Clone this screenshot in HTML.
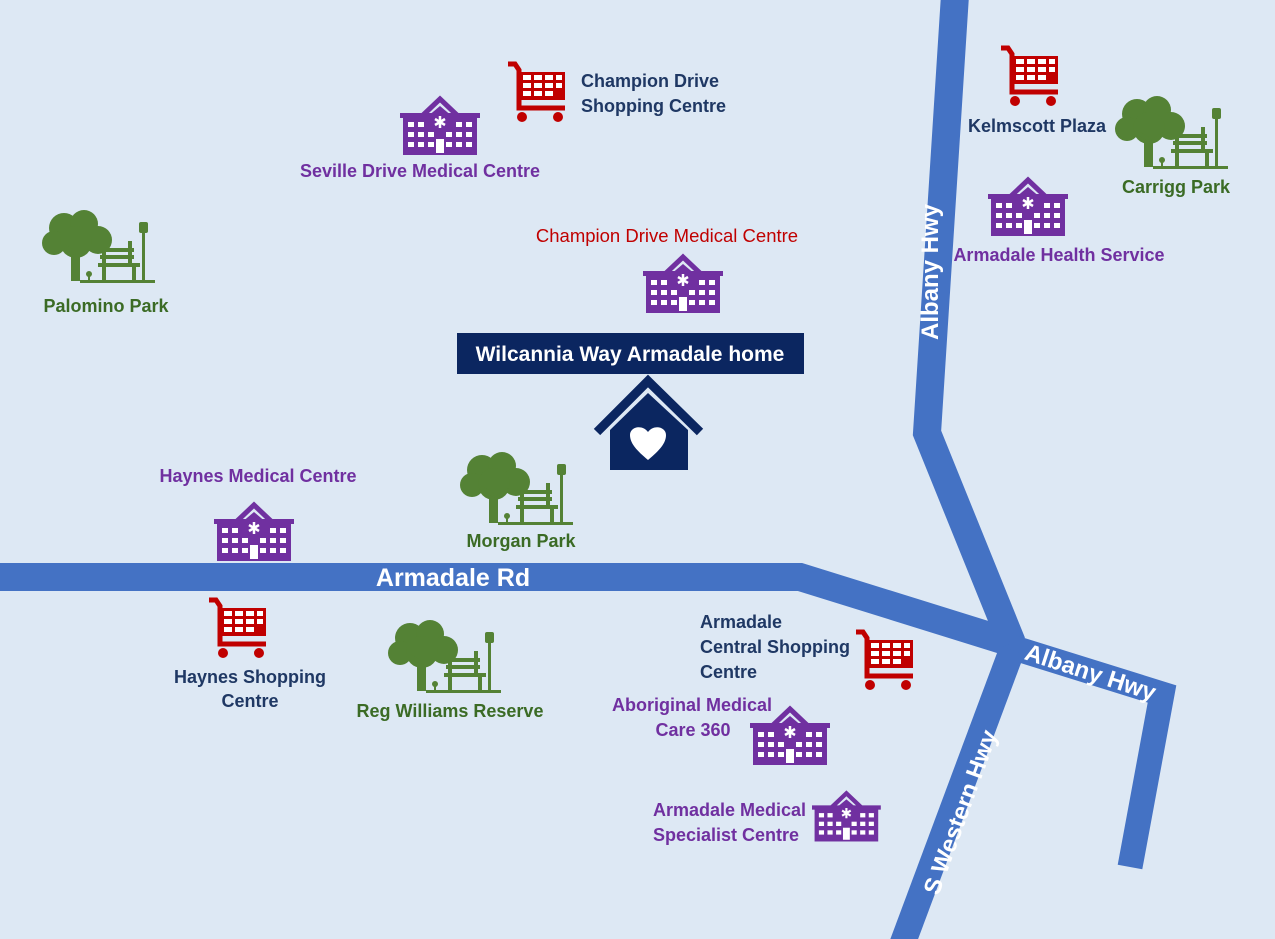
<!DOCTYPE html>
<html><head><meta charset="utf-8"><style>
html,body{margin:0;padding:0;background:#dde8f4;}
svg{display:block}
text{font-family:"Liberation Sans",sans-serif;font-weight:bold;font-size:18px}
</style></head><body>
<svg width="1275" height="939" viewBox="0 0 1275 939" xmlns="http://www.w3.org/2000/svg">
<defs>
<g id="hosp" fill="#7030a0">
  <polyline points="21,30 40,12 59,30" fill="none" stroke="#7030a0" stroke-width="5"/>
  <polygon points="27,30 40,19 53,30"/>
  <rect x="0" y="26" width="80" height="5"/>
  <rect x="3" y="30" width="74" height="38"/>
  <g fill="#fff">
    <rect x="8" y="35" width="6" height="5"/><rect x="18" y="35" width="6" height="5"/><rect x="56" y="35" width="6" height="5"/><rect x="66" y="35" width="6" height="5"/>
    <rect x="8" y="45" width="6" height="5"/><rect x="18" y="45" width="6" height="5"/><rect x="28" y="45" width="6" height="5"/><rect x="46" y="45" width="6" height="5"/><rect x="56" y="45" width="6" height="5"/><rect x="66" y="45" width="6" height="5"/>
    <rect x="8" y="55" width="6" height="5"/><rect x="18" y="55" width="6" height="5"/><rect x="28" y="55" width="6" height="5"/><rect x="46" y="55" width="6" height="5"/><rect x="56" y="55" width="6" height="5"/><rect x="66" y="55" width="6" height="5"/>
    <rect x="36" y="52" width="8" height="14"/>
    <path d="M40 29v12M35 32l10 6M45 32l-10 6" stroke="#fff" stroke-width="2.5"/>
  </g>
</g>
<g id="cart">
  <path d="M1 4h7l4 6v38h46" fill="none" stroke="#c00000" stroke-width="5"/>
  <rect x="12" y="12" width="46" height="28" fill="#c00000"/>
  <g fill="#fff">
    <rect x="16" y="15" width="8" height="5"/><rect x="27" y="15" width="8" height="5"/><rect x="38" y="15" width="8" height="5"/><rect x="49" y="15" width="6" height="5"/>
    <rect x="16" y="23" width="8" height="5"/><rect x="27" y="23" width="8" height="5"/><rect x="38" y="23" width="8" height="5"/><rect x="49" y="23" width="6" height="5"/>
    <rect x="16" y="31" width="8" height="5"/><rect x="27" y="31" width="8" height="5"/><rect x="38" y="31" width="8" height="5"/>
  </g>
  <circle cx="15" cy="57" r="5" fill="#c00000"/><circle cx="51" cy="57" r="5" fill="#c00000"/>
</g>
<g id="park" fill="#548235">
  <circle cx="22" cy="18" r="15"/><circle cx="42" cy="14" r="14"/><circle cx="56" cy="30" r="14"/><circle cx="12" cy="33" r="12"/><circle cx="34" cy="32" r="16"/>
  <path d="M29 38h9v33h-9z"/><path d="M33 45l-14 -8 3-3 12 7zM34 45l14-9 2 3-14 9z"/>
  <rect x="58" y="38" width="34" height="4"/><rect x="58" y="45" width="34" height="4"/>
  <rect x="86" y="31" width="4" height="22"/><rect x="60" y="36" width="4" height="17"/>
  <rect x="56" y="53" width="42" height="4"/><rect x="60" y="56" width="4" height="14"/><rect x="90" y="56" width="4" height="14"/>
  <rect x="100" y="22" width="3" height="50"/><rect x="97" y="12" width="9" height="11" rx="2"/>
  <rect x="38" y="70" width="75" height="3"/>
  <circle cx="47" cy="64" r="3"/><rect x="46" y="64" width="2" height="7"/>
</g>
</defs>

<g fill="none" stroke="#4472c4" stroke-linejoin="miter">
  <polyline points="-5,577 800,577 1012,643" stroke-width="28"/>
  <polyline points="955,-5 927,433 1012,643" stroke-width="28"/>
  <polyline points="1008,646 1162,694 1130,867" stroke-width="25"/>
  <polyline points="1012,650 902,945" stroke-width="26"/>
</g>
<text x="453" y="586" fill="#fff" text-anchor="middle" style="font-size:25px">Armadale Rd</text>
<text transform="translate(938,272) rotate(-90)" fill="#fff" text-anchor="middle" style="font-size:24px">Albany Hwy</text>
<text transform="translate(1088,680) rotate(18)" fill="#fff" text-anchor="middle" style="font-size:24px">Albany Hwy</text>
<text transform="translate(968,815) rotate(-70)" fill="#fff" text-anchor="middle" style="font-size:24px">S Western Hwy</text>

<use href="#hosp" x="400" y="87"/>
<use href="#hosp" x="643" y="245"/>
<use href="#hosp" x="988" y="168"/>
<use href="#hosp" x="214" y="493"/>
<use href="#hosp" x="750" y="697"/>
<use href="#hosp" x="812" y="783" transform="translate(812,783) scale(0.86) translate(-812,-783)"/>
<use href="#cart" x="507" y="60"/>
<use href="#cart" x="1000" y="44"/>
<use href="#cart" x="208" y="596"/>
<use href="#cart" x="855" y="628"/>
<use href="#park" x="42" y="210"/>
<use href="#park" x="1115" y="96"/>
<use href="#park" x="460" y="452"/>
<use href="#park" x="388" y="620"/>

<rect x="457" y="333" width="347" height="41" fill="#0b2660"/>
<text x="630" y="361" fill="#fff" text-anchor="middle" style="font-size:21px">Wilcannia Way Armadale home</text>
<polyline points="597,432 648,381 700,432" fill="none" stroke="#0b2660" stroke-width="9"/>
<polygon points="610,430 648,393 688,430 688,470 610,470" fill="#0b2660"/>
<path d="M648 460 C636 450 630 443 630 435 C630 427 642 424 648 432 C654 424 666 427 666 435 C666 443 660 450 648 460Z" fill="#fff"/>

<g fill="#7030a0" text-anchor="middle">
  <text x="420" y="177">Seville Drive Medical Centre</text>
  <text x="1059" y="261">Armadale Health Service</text>
  <text x="258" y="482">Haynes Medical Centre</text>
  <text x="692" y="711">Aboriginal Medical</text>
  <text x="693" y="736">Care 360</text>
  <text x="653" y="816" text-anchor="start">Armadale Medical</text>
  <text x="653" y="841" text-anchor="start">Specialist Centre</text>
</g>
<text x="667" y="242" fill="#c00000" text-anchor="middle" style="font-weight:normal;font-size:18.5px">Champion Drive Medical Centre</text>
<g fill="#1f3864">
  <text x="581" y="87">Champion Drive</text>
  <text x="581" y="112">Shopping Centre</text>
  <text x="1037" y="132" text-anchor="middle">Kelmscott Plaza</text>
  <text x="250" y="683" text-anchor="middle">Haynes Shopping</text>
  <text x="250" y="707" text-anchor="middle">Centre</text>
  <text x="700" y="628">Armadale</text>
  <text x="700" y="653">Central Shopping</text>
  <text x="700" y="678">Centre</text>
</g>
<g fill="#3b6b25" text-anchor="middle">
  <text x="106" y="312">Palomino Park</text>
  <text x="1176" y="193">Carrigg Park</text>
  <text x="521" y="547">Morgan Park</text>
  <text x="450" y="717">Reg Williams Reserve</text>
</g>
</svg>
</body></html>
